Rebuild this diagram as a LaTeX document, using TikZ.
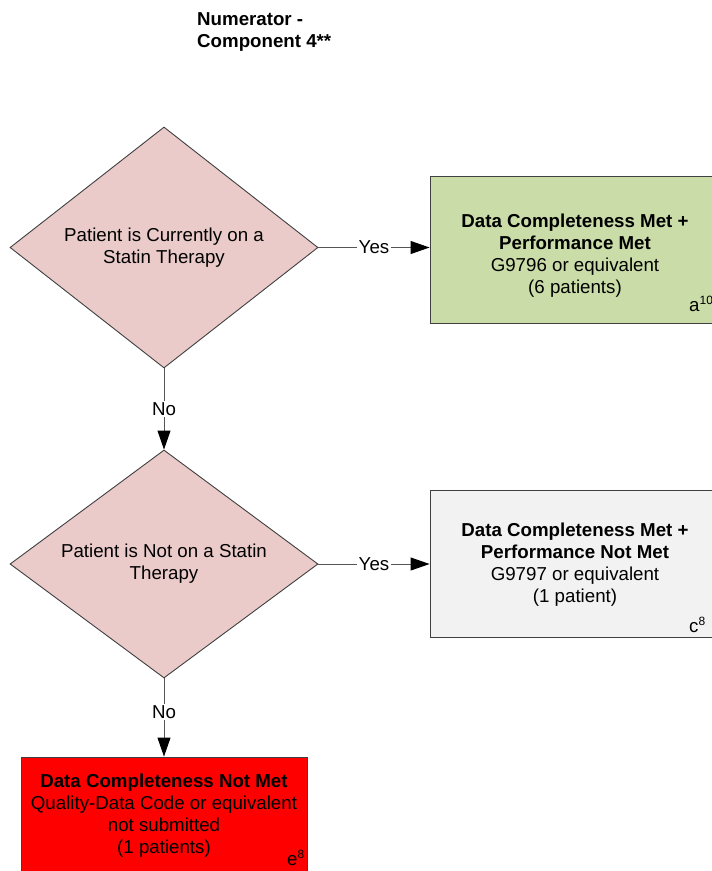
\documentclass[tikz,border=0pt]{standalone}
\usepackage{fontspec}
\setmainfont{Liberation Sans}
\usetikzlibrary{shapes.geometric,arrows.meta}
\definecolor{dfill}{HTML}{EACBCA}
\definecolor{gfill}{HTML}{CADCA8}
\definecolor{grfill}{HTML}{F2F2F2}
\definecolor{rfill}{HTML}{FF0000}
\definecolor{edgecol}{HTML}{404040}
\definecolor{linecol}{HTML}{555555}
\newcommand{\supr}[1]{{\fontsize{12}{12}\selectfont\raisebox{7pt}{#1}}}
\begin{document}
\begin{tikzpicture}[x=1pt,y=-1pt,
  txt/.style={font=\fontsize{18.7}{22}\selectfont, align=center, inner sep=0pt},
  dec/.style={shape=diamond, draw=edgecol, fill=dfill, line width=0.9pt, minimum width=308pt, inner sep=0pt, aspect=1.28, txt},
  outbox/.style={draw=edgecol, line width=0.9pt, minimum width=290pt, minimum height=147pt, inner sep=0pt},
  conn/.style={draw=linecol, line width=0.9pt},
  arr/.style={conn, -{Triangle[length=19pt,width=13pt,color=black]}},
  lbl/.style={txt, fill=white, inner sep=1.5pt}]
\useasboundingbox (0,0) rectangle (712,871);
\clip (0,0) rectangle (712,871);

% title
\node[txt, anchor=north west, align=left, font=\fontsize{18.7}{22}\selectfont\bfseries] (title) at (197,12) {Numerator -\\Component 4**};

% decisions
\node[dec, minimum height=241pt] (d1) at (164,247.5) {Patient is Currently on a\\Statin Therapy};
\node[dec, minimum height=228pt] (d2) at (164,564) {Patient is Not on a Statin\\Therapy};

% outcome boxes
\node[outbox, fill=gfill] (g) at (575,249.5) {};
\node[txt] (gt) at (575,256) {\textbf{Data Completeness Met +}\\\textbf{Performance Met}\\G9796 or equivalent\\(6 patients)};
\node[txt, anchor=base west] (ga) at (689,311) {a\supr{10}};

\node[outbox, fill=grfill] (c) at (575,563.5) {};
\node[txt] (ct) at (575,565) {\textbf{Data Completeness Met +}\\\textbf{Performance Not Met}\\G9797 or equivalent\\(1 patient)};
\node[txt, anchor=base west] (ca) at (689,632) {c\supr{8}};

\node[outbox, fill=rfill, minimum width=286pt, minimum height=140pt] (r) at (164,827) {};
\node[txt] (rt) at (164,815.5) {\textbf{Data Completeness Not Met}\\Quality-Data Code or equivalent\\not submitted\\(1 patients)};
\node[txt, anchor=base west] (ra) at (287,865) {e\supr{8}};

% connectors
\draw[arr] (d1.east) -- (d1.east -| g.west) node[lbl, pos=0.5] {Yes};
\draw[arr] (d2.east) -- (d2.east -| c.west) node[lbl, pos=0.5] {Yes};
\draw[arr] (d1.south) -- (d2.north) node[lbl, pos=0.5] {No};
\draw[arr] (d2.south) -- (r.north) node[lbl, pos=0.43] {No};
\end{tikzpicture}
\end{document}
